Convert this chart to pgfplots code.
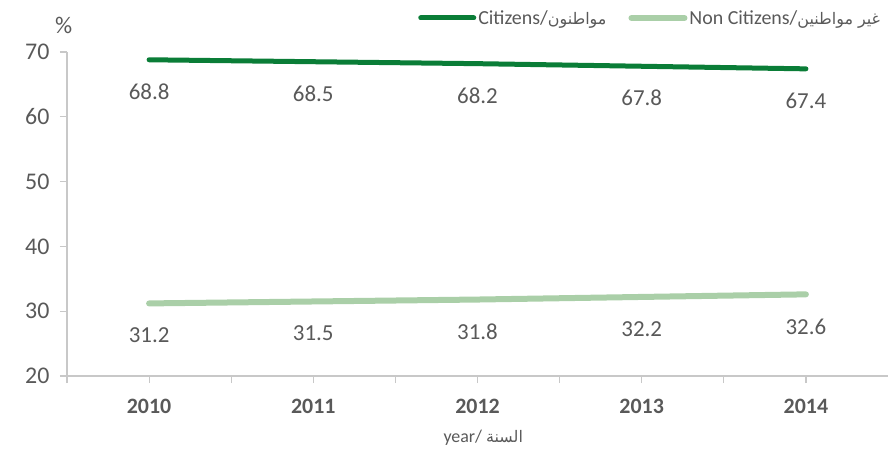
\documentclass[border=0pt]{standalone}
\usepackage{pgfplots}
\pgfplotsset{compat=1.18}
\usepackage{fontspec}
\setmainfont{Carlito}
\newfontfamily\arabicfont[Script=Arabic]{DejaVu Sans}
\TeXXeTstate=1
\definecolor{cit}{RGB}{10,125,55}
\definecolor{noncit}{RGB}{170,207,168}
\definecolor{txt}{RGB}{89,89,89}
\definecolor{axc}{RGB}{200,200,200}
\begin{document}
\begin{tikzpicture}
\useasboundingbox (-67bp,-76bp) rectangle (823bp,376bp);
\begin{axis}[
  scale only axis, width=821bp, height=324bp,
  at={(0,0)}, anchor=south west,
  xmin=-0.5, xmax=4.5, ymin=20, ymax=70,
  axis x line*=bottom, axis y line*=left,
  axis line style={axc, line width=1.2bp},
  xtick={0,1,2,3,4}, xticklabels={2010,2011,2012,2013,2014},
  minor xtick={-0.5,0.5,1.5,2.5,3.5},
  ytick={20,30,40,50,60,70},
  tick align=outside, major tick length=7bp, minor tick length=7bp,
  tick style={axc, line width=1.2bp},
  /pgf/number format/assume math mode=true,
  x tick label style={font=\fontsize{22}{26}\selectfont\bfseries, text=txt, yshift=-13bp},
  y tick label style={font=\fontsize{24}{28}\selectfont, text=txt, xshift=-7bp},
  xlabel={year/ {\arabicfont\fontsize{16}{19}\selectfont\beginR السنة\endR}},
  xlabel style={at={(rel axis cs:0.507,-0.191)}, anchor=center, font=\fontsize{18}{21}\selectfont, text=txt},
  clip=false,
  nodes near coords={\pgfmathprintnumber[fixed,fixed zerofill,precision=1]{\pgfplotspointmeta}},
  nodes near coords style={font=\fontsize{23}{27}\selectfont, text=txt, anchor=center, yshift=-32bp},
  legend style={at={(rel axis cs:0.993,1.105)}, anchor=east, draw=none, fill=none,
    font=\fontsize{20}{24}\selectfont, text=txt, inner sep=0pt,
    /tikz/every even column/.append style={column sep=20bp}},
  legend columns=2,
  legend image code/.code={\draw[#1, line cap=round] (0bp,0bp) -- (53bp,0bp);},
]
\addplot[cit, line width=5bp, line cap=round] coordinates {(0,68.8) (1,68.5) (2,68.2) (3,67.8) (4,67.4)};
\addlegendentry{Citizens/{\arabicfont\fontsize{16}{20}\selectfont\beginR مواطنون\endR}}
\addplot[noncit, line width=6bp, line cap=round] coordinates {(0,31.2) (1,31.5) (2,31.8) (3,32.2) (4,32.6)};
\addlegendentry{Non Citizens/{\arabicfont\fontsize{16}{20}\selectfont\beginR غير مواطنين\endR}}
\node[font=\fontsize{24}{28}\selectfont, text=txt] at (rel axis cs:-0.004,1.083) {\%};
\end{axis}
\end{tikzpicture}
\end{document}
